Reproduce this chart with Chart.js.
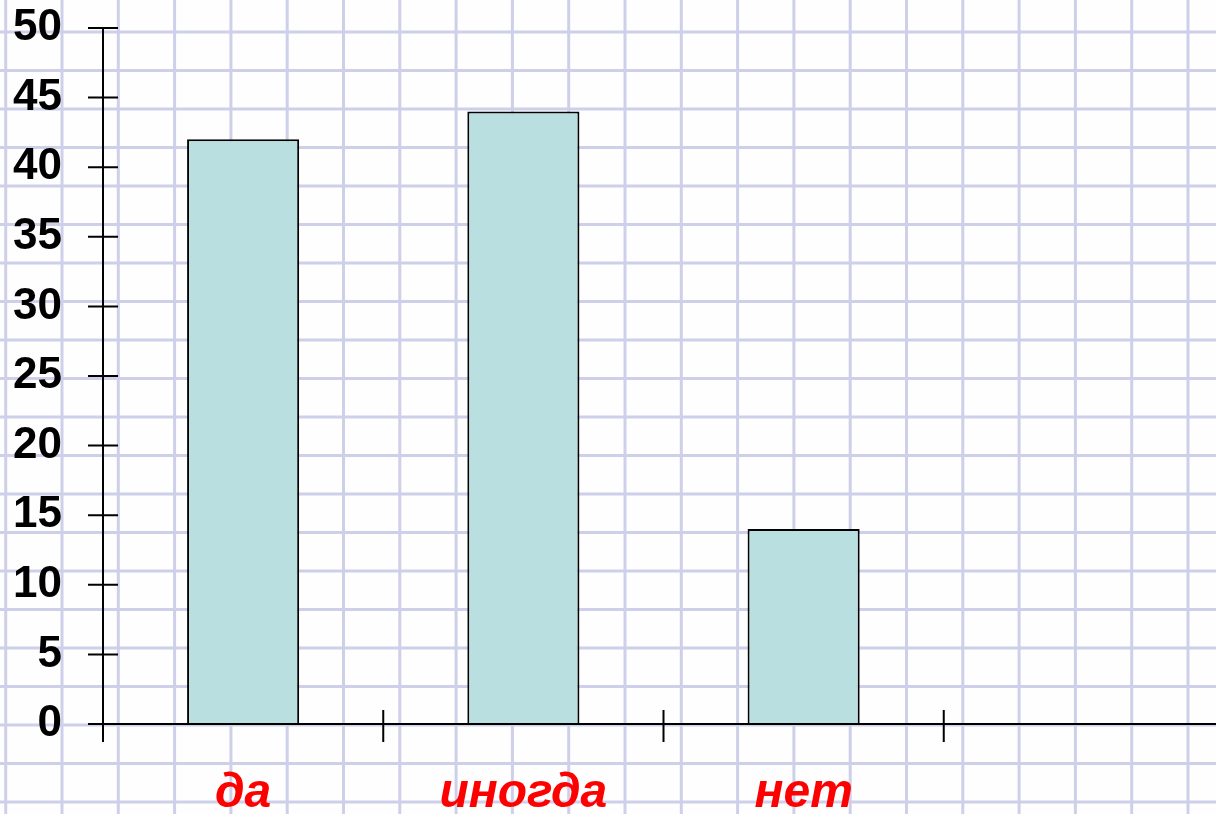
<!DOCTYPE html>
<html>
<head>
<meta charset="utf-8">
<script src="https://cdn.jsdelivr.net/npm/chart.js@4/dist/chart.umd.min.js"></script>
<style>
    html, body { margin: 0; padding: 0; overflow: hidden; background: #fff; }
    .chart-box { width: 1224px; height: 814px; }
</style>
</head>
<body>
<div class="chart-box"><canvas id="surveyChart"></canvas></div>
<script>
// Data
const categories = ['да', 'иногда', 'нет', ''];
const answers = [42, 44, 14, null];
const yMin = 0;
const yMax = 50;
const yStep = 5;

// Squared paper behind the chart
const paperBackground = {
    id: 'paperBackground',
    beforeDraw(chart) {
        const ctx = chart.ctx;
        const w = chart.width, h = chart.height;
        ctx.save();
        ctx.fillStyle = '#fefefe';
        ctx.fillRect(0, 0, w, h);
        ctx.strokeStyle = 'rgb(206, 208, 233)';
        ctx.lineWidth = 3;
        ctx.beginPath();
        for (let x = 5.7; x < w; x += 56.3) {
            ctx.moveTo(x, 0);
            ctx.lineTo(x, h);
        }
        for (let y = 32; y < h; y += 38.5) {
            ctx.moveTo(0, y);
            ctx.lineTo(w, y);
        }
        ctx.stroke();
        ctx.restore();
    }
};

// Axes with crossing tick marks
const crossAxes = {
    id: 'crossAxes',
    afterDatasetsDraw(chart) {
        const ctx = chart.ctx;
        const xs = chart.scales.x, ys = chart.scales.y;
        const left = chart.chartArea.left;
        const y0 = ys.getPixelForValue(yMin);
        ctx.save();
        ctx.strokeStyle = '#000';
        ctx.lineWidth = 2;
        ctx.beginPath();
        // y axis
        ctx.moveTo(left, ys.getPixelForValue(yMax));
        ctx.lineTo(left, y0 + 18);
        ys.ticks.forEach(t => {
            const py = ys.getPixelForValue(t.value);
            ctx.moveTo(left - 15, py);
            ctx.lineTo(left + 15, py);
        });
        // x axis
        ctx.moveTo(left - 15, y0);
        ctx.lineTo(chart.chartArea.right, y0);
        for (let i = 1; i < categories.length; i++) {
            const px = (xs.getPixelForValue(i - 1) + xs.getPixelForValue(i)) / 2;
            ctx.moveTo(px, y0 - 14);
            ctx.lineTo(px, y0 + 18);
        }
        ctx.stroke();
        ctx.restore();
    }
};

const ctx = document.getElementById('surveyChart').getContext('2d');
new Chart(ctx, {
    type: 'bar',
    data: {
        labels: categories,
        datasets: [{
            data: answers,
            backgroundColor: 'rgb(186, 223, 225)',
            borderColor: '#000',
            borderWidth: 2,
            barPercentage: 0.4,
            categoryPercentage: 1
        }]
    },
    options: {
        responsive: true,
        maintainAspectRatio: false,
        animation: false,
        layout: { padding: { top: 28, left: 0, right: 0, bottom: 0 } },
        scales: {
            x: {
                grid: { display: false, drawTicks: false },
                border: { display: false },
                ticks: {
                    color: '#ff0000',
                    padding: 41,
                    autoSkip: false,
                    maxRotation: 0,
                    font: { family: 'Arial, "Liberation Sans", sans-serif', size: 48, style: 'italic', weight: 'bold' }
                },
                afterFit: (scale) => {
                    scale.height = 90;
                    scale.paddingLeft = 0;
                    scale.paddingRight = 0;
                }
            },
            y: {
                min: yMin,
                max: yMax,
                grid: { display: false, drawTicks: false },
                border: { display: false },
                ticks: {
                    stepSize: yStep,
                    color: '#000',
                    padding: 41,
                    font: { family: 'Arial, "Liberation Sans", sans-serif', size: 44, weight: 'bold' }
                },
                afterFit: (scale) => {
                    scale.width = 103;
                    scale.paddingTop = 0;
                    scale.paddingBottom = 0;
                }
            }
        },
        plugins: {
            legend: { display: false },
            tooltip: { enabled: false }
        }
    },
    plugins: [paperBackground, crossAxes]
});
</script>
</body>
</html>
